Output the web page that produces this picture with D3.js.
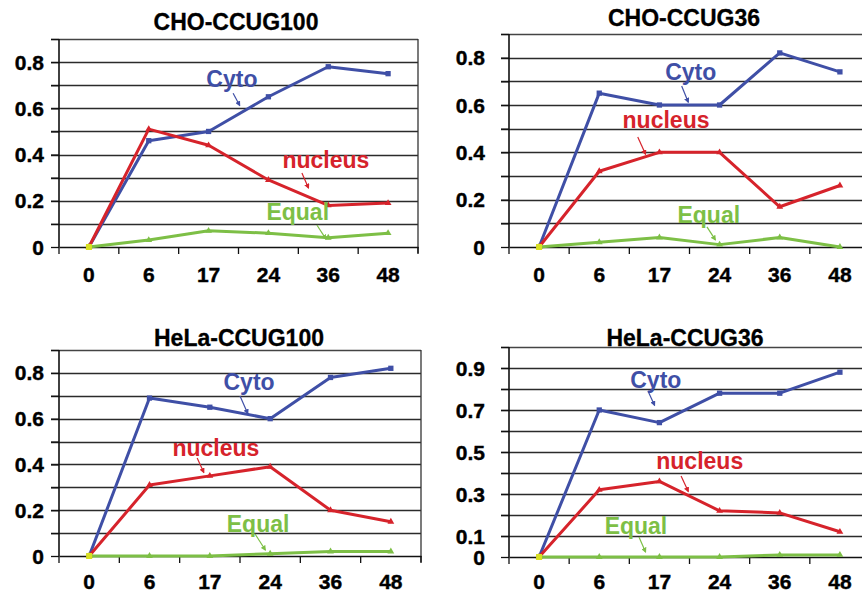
<!DOCTYPE html>
<html>
<head>
<meta charset="utf-8">
<script src="https://cdn.jsdelivr.net/npm/d3@7"></script>
<style>
	body { margin: 0; background: #fff; }
	svg text { font-family: "Liberation Sans", Arial, sans-serif; font-weight: bold; }
</style>
</head>
<body>
<div id="chart"></div>
<script>
// ---------- DATA ----------
const times = ["0", "6", "17", "24", "36", "48"];
const seriesNames = ["Cyto", "nucleus", "Equal"];

const cho100Cyto = [0, 0.46, 0.5, 0.65, 0.78, 0.75];
const cho100Nucleus = [0, 0.51, 0.44, 0.29, 0.18, 0.19];
const cho100Equal = [0, 0.03, 0.07, 0.06, 0.04, 0.06];

const cho36Cyto = [0, 0.65, 0.6, 0.6, 0.82, 0.74];
const cho36Nucleus = [0, 0.32, 0.4, 0.4, 0.17, 0.26];
const cho36Equal = [0, 0.02, 0.04, 0.01, 0.04, 0];

const hela100Cyto = [0, 0.69, 0.65, 0.6, 0.78, 0.82];
const hela100Nucleus = [0, 0.31, 0.35, 0.39, 0.2, 0.15];
const hela100Equal = [0, 0, 0, 0.01, 0.02, 0.02];

const hela36Cyto = [0, 0.7, 0.64, 0.78, 0.78, 0.88];
const hela36Nucleus = [0, 0.32, 0.36, 0.22, 0.21, 0.12];
const hela36Equal = [0, 0, 0, 0, 0.01, 0.01];

const tickLabels100 = [0, 0.2, 0.4, 0.6, 0.8];
const tickLabelsH36 = [0, 0.1, 0.3, 0.5, 0.7, 0.9];

const colors = {
	Cyto: "#3f4fa6",
	nucleus: "#d6232b",
	Equal: "#7dbf46",
};

// ---------- LAYOUT ----------
const W = 862, H = 593;
const panels = [
	{
		title: "CHO-CCUG100", series: [cho100Cyto, cho100Nucleus, cho100Equal],
		left: 59, right: 418, top: 39, bottom: 247, yMax: 0.9, labels: tickLabels100,
		titleX: 236, titleY: 30, xLabelY: 282, labelGap: 15,
		notes: [
			{ at: [2.39, 0.727], arrow: [[2.41, 0.665], [2.52, 0.612]] },
			{ at: [3.96, 0.376], arrow: [[3.56, 0.32], [3.67, 0.255]] },
			{ at: [3.49, 0.151], arrow: [[3.81, 0.095], [3.96, 0.035]] },
		],
	},
	{
		title: "CHO-CCUG36", series: [cho36Cyto, cho36Nucleus, cho36Equal],
		left: 509, right: 870, top: 34, bottom: 247, yMax: 0.9, labels: tickLabels100,
		titleX: 684, titleY: 26, xLabelY: 282, labelGap: 24,
		notes: [
			{ at: [2.52, 0.739], arrow: [[2.37, 0.68], [2.48, 0.612]] },
			{ at: [2.11, 0.537], arrow: [[1.64, 0.465], [1.77, 0.392]] },
			{ at: [2.82, 0.135], arrow: [[2.79, 0.085], [2.93, 0.03]] },
		],
	},
	{
		title: "HeLa-CCUG100", series: [hela100Cyto, hela100Nucleus, hela100Equal],
		left: 59, right: 421, top: 350, bottom: 556, yMax: 0.9, labels: tickLabels100,
		titleX: 239, titleY: 346, xLabelY: 589, labelGap: 15,
		notes: [
			{ at: [2.65, 0.761], arrow: [[2.5, 0.699], [2.63, 0.622]] },
			{ at: [2.1, 0.472], arrow: [[1.79, 0.428], [1.9, 0.365]] },
			{ at: [2.8, 0.14], arrow: [[2.75, 0.096], [2.92, 0.026]] },
		],
	},
	{
		title: "HeLa-CCUG36", series: [hela36Cyto, hela36Nucleus, hela36Equal],
		left: 509, right: 870, top: 347, bottom: 557, yMax: 1.0, labels: tickLabelsH36,
		titleX: 685, titleY: 346, xLabelY: 589, labelGap: 24,
		notes: [
			{ at: [1.94, 0.843], arrow: [[1.81, 0.79], [1.92, 0.722]] },
			{ at: [2.67, 0.457], arrow: [[2.36, 0.386], [2.48, 0.312]] },
			{ at: [1.61, 0.148], arrow: [[1.66, 0.095], [1.77, 0.024]] },
		],
	},
];

const svg = d3
	.select("#chart")
	.append("svg")
	.attr("width", W)
	.attr("height", H);

const defs = svg.append("defs");
seriesNames.forEach((name) => {
	defs
		.append("marker")
		.attr("id", `head-${name}`)
		.attr("viewBox", "0 0 10 10")
		.attr("refX", 8)
		.attr("refY", 5)
		.attr("markerWidth", 4.5)
		.attr("markerHeight", 4.5)
		.attr("orient", "auto")
		.append("path")
		.attr("d", "M0,0 L10,5 L0,10 Z")
		.attr("fill", colors[name]);
});

panels.forEach((p) => drawPanel(p));

function drawPanel(p) {
	const g = svg.append("g");

	const x = d3.scaleBand().domain(times).range([p.left, p.right]).padding(0);
	const xi = d3.scaleLinear().domain([-0.5, times.length - 0.5]).range([p.left, p.right]);
	const y = d3.scaleLinear().domain([0, p.yMax]).range([p.bottom, p.top]);

	// horizontal grid every 0.1
	const gridVals = d3.range(1, Math.round(p.yMax * 10) + 1).map((d) => d / 10);
	g.append("g")
		.selectAll("line")
		.data(gridVals)
		.join("line")
		.attr("x1", p.left - 8)
		.attr("x2", p.right)
		.attr("y1", (d) => Math.round(y(d)) + 0.5)
		.attr("y2", (d) => Math.round(y(d)) + 0.5)
		.attr("stroke", (d, i) => (i === gridVals.length - 1 ? "#444" : "#2b2b2b"))
		.attr("stroke-width", 1.3);

	// right border
	g.append("line")
		.attr("x1", p.right)
		.attr("x2", p.right)
		.attr("y1", p.top)
		.attr("y2", p.bottom + 6)
		.attr("stroke", "#333")
		.attr("stroke-width", 1.3);

	// y axis
	const yAxis = g
		.append("g")
		.attr("transform", `translate(${p.left},0)`)
		.call(d3.axisLeft(y).tickValues(gridVals.concat([0])).tickSize(8).tickFormat(""));
	yAxis.select(".domain").remove();
	yAxis.selectAll(".tick line").attr("stroke", "#111").attr("stroke-width", 1.3);
	g.append("line")
		.attr("x1", p.left)
		.attr("x2", p.left)
		.attr("y1", p.top)
		.attr("y2", p.bottom)
		.attr("stroke", "#111")
		.attr("stroke-width", 1.6);

	g.append("g")
		.selectAll("text")
		.data(p.labels)
		.join("text")
		.attr("x", p.left - p.labelGap)
		.attr("y", (d) => y(d))
		.attr("dy", "0.36em")
		.attr("text-anchor", "end")
		.attr("font-size", 21)
		.attr("stroke", "#000")
		.attr("stroke-width", 0.4)
		.text((d) => (d === 0 ? "0" : d3.format(".1f")(d)));

	// x axis
	const xAxis = g
		.append("g")
		.attr("transform", `translate(0,${p.bottom})`)
		.call(d3.axisBottom(x).tickSize(0).tickFormat(""));
	xAxis.select(".domain").attr("stroke", "#111").attr("stroke-width", 1.6);
	const bounds = times.map((t) => x(t)).concat([p.right]);
	g.append("g")
		.selectAll("line")
		.data(bounds)
		.join("line")
		.attr("x1", (d) => d)
		.attr("x2", (d) => d)
		.attr("y1", p.bottom)
		.attr("y2", p.bottom + 7)
		.attr("stroke", "#111")
		.attr("stroke-width", 1.3);
	g.append("g")
		.selectAll("text")
		.data(times)
		.join("text")
		.attr("x", (d) => x(d) + x.bandwidth() / 2)
		.attr("y", p.xLabelY)
		.attr("text-anchor", "middle")
		.attr("font-size", 21)
		.attr("stroke", "#000")
		.attr("stroke-width", 0.4)
		.text((d) => d);

	// title
	g.append("text")
		.attr("x", p.titleX)
		.attr("y", p.titleY)
		.attr("text-anchor", "middle")
		.attr("font-size", 23)
		.attr("stroke", "#000")
		.attr("stroke-width", 0.3)
		.text(p.title);

	// lines
	const line = d3
		.line()
		.x((d, i) => x(times[i]) + x.bandwidth() / 2)
		.y((d) => y(d));

	p.series.forEach((vals, si) => {
		const name = seriesNames[si];
		g.append("path")
			.datum(vals)
			.attr("d", line)
			.attr("fill", "none")
			.attr("stroke", colors[name])
			.attr("stroke-width", 3)
			.attr("stroke-linejoin", "round");
		const sym = si === 0 ? d3.symbolSquare : d3.symbolTriangle;
		g.append("g")
			.selectAll("path")
			.data(vals)
			.join("path")
			.attr("transform", (d, i) => `translate(${x(times[i]) + x.bandwidth() / 2},${y(d)})`)
			.attr("d", d3.symbol().type(sym).size(si === 0 ? 28 : 20))
			.attr("fill", colors[name]);
	});

	// yellow origin marker
	g.append("rect")
		.attr("x", x(times[0]) + x.bandwidth() / 2 - 3)
		.attr("y", y(p.series[2][0]) - 3)
		.attr("width", 6)
		.attr("height", 6)
		.attr("fill", "#d9e021");

	// annotations
	p.notes.forEach((n, si) => {
		const name = seriesNames[si];
		g.append("text")
			.attr("x", xi(n.at[0]))
			.attr("y", y(n.at[1]))
			.attr("dy", "0.36em")
			.attr("text-anchor", "middle")
			.attr("font-size", 23)
			.attr("fill", colors[name])
			.text(name);
		g.append("line")
			.attr("x1", xi(n.arrow[0][0]))
			.attr("y1", y(n.arrow[0][1]))
			.attr("x2", xi(n.arrow[1][0]))
			.attr("y2", y(n.arrow[1][1]))
			.attr("stroke", colors[name])
			.attr("stroke-width", 1.2)
			.attr("marker-end", `url(#head-${name})`);
	});
}
</script>
</body>
</html>
